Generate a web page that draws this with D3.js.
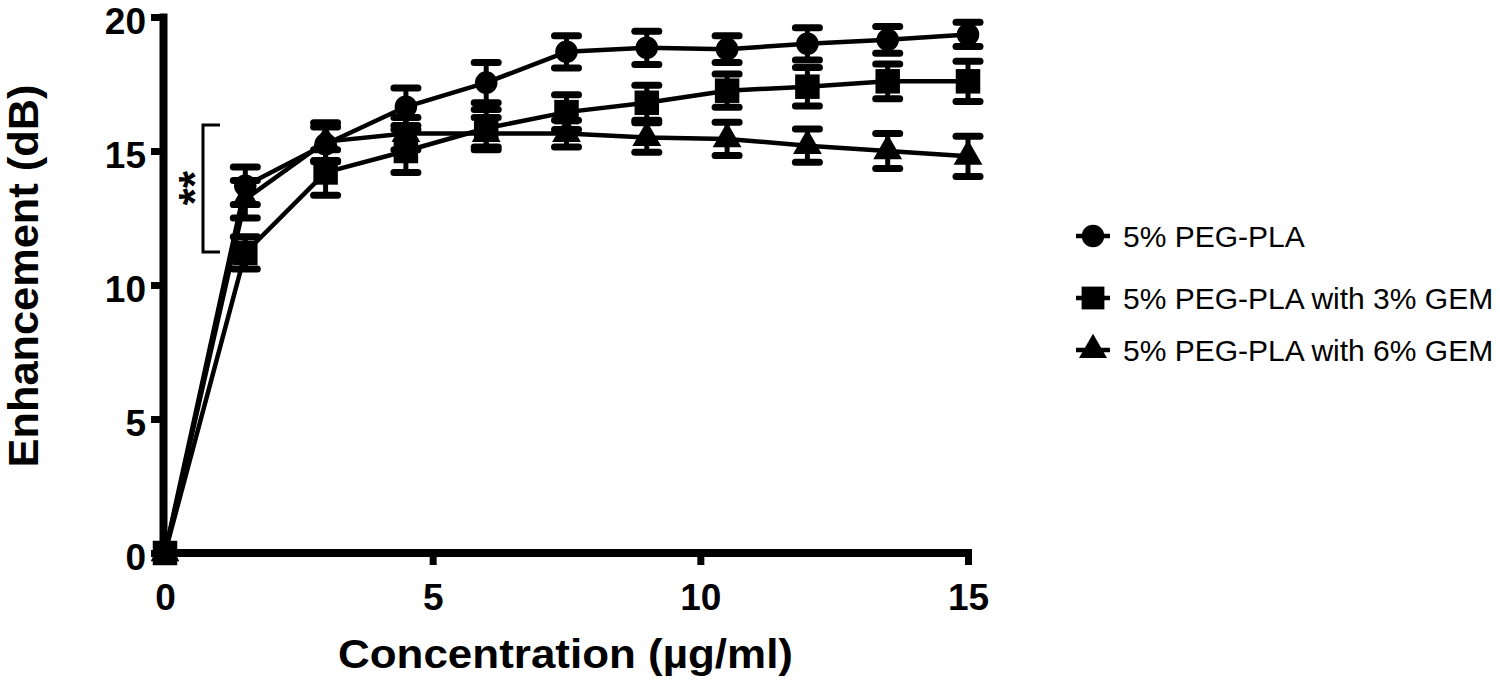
<!DOCTYPE html>
<html>
<head>
<meta charset="utf-8">
<script src="https://cdn.jsdelivr.net/npm/d3@7"></script>
<style>
  html, body { margin: 0; padding: 0; background: #fff; }
  svg { display: block; }
  text { font-family: "Liberation Sans", Arial, Helvetica, sans-serif; fill: #000; }
</style>
</head>
<body>
<svg id="chart" width="1500" height="683"></svg>
<script>
// ---- data ----
const concentrations = [0, 1.5, 3, 4.5, 6, 7.5, 9, 10.5, 12, 13.5, 15];
const xTickValues = [0, 5, 10, 15];
const yTickValues = [0, 5, 10, 15, 20];
const seriesNames = ["5% PEG-PLA", "5% PEG-PLA with 3% GEM", "5% PEG-PLA with 6% GEM"];
const pegPla      = [0, 13.7, 15.25, 16.65, 17.55, 18.7, 18.85, 18.8, 19.0, 19.15, 19.35];
const pegPlaErr   = [0, 0.7, 0.65, 0.7, 0.75, 0.6, 0.62, 0.5, 0.6, 0.5, 0.45];
const gem3        = [0, 11.2, 14.2, 15.0, 15.85, 16.45, 16.8, 17.25, 17.4, 17.6, 17.6];
const gem3Err     = [0, 0.6, 0.85, 0.8, 0.7, 0.65, 0.65, 0.62, 0.72, 0.65, 0.75];
const gem6        = [0, 13.2, 15.35, 15.65, 15.65, 15.65, 15.5, 15.45, 15.2, 15.0, 14.8];
const gem6Err     = [0, 0.7, 0.7, 0.6, 0.6, 0.5, 0.55, 0.62, 0.62, 0.65, 0.75];
const xLabel = "Concentration (\u00b5g/ml)";
const yLabel = "Enhancement (dB)";
const sigLabel = "**";

// ---- setup ----
const svg = d3.select("#chart");
svg.append("rect").attr("width", 1500).attr("height", 683).attr("fill", "#fff");

const x = d3.scaleLinear().domain([0, 15]).range([165, 968]);
const y = d3.scaleLinear().domain([0, 20]).range([553, 17]);

const series = [
  { name: seriesNames[2], values: gem6, err: gem6Err, symbol: d3.symbolTriangle, size: 360 },
  { name: seriesNames[0], values: pegPla, err: pegPlaErr, symbol: d3.symbolCircle, size: 400 },
  { name: seriesNames[1], values: gem3, err: gem3Err, symbol: d3.symbolSquare, size: 600 }
];

// ---- axes ----
const yAxis = d3.axisLeft(y).tickValues(yTickValues).tickSize(12).tickSizeOuter(0).tickPadding(5);
const gy = svg.append("g").attr("transform", `translate(${x(0) - 2},0)`).call(yAxis);
gy.select(".domain").attr("stroke-width", 8).attr("stroke-linecap", "square").attr("stroke", "#000");
gy.selectAll(".tick line").attr("stroke-width", 7).attr("stroke", "#000");
gy.selectAll(".tick text").attr("font-size", 37).attr("font-weight", "bold")
  .attr("font-family", "'Liberation Sans', Arial, sans-serif").attr("fill", "#000").attr("dy", 16.5);

const xAxis = d3.axisBottom(x).tickValues(xTickValues).tickSize(12).tickSizeOuter(0).tickPadding(0);
const gx = svg.append("g").attr("transform", `translate(0,${y(0)})`).call(xAxis);
gx.select(".domain").attr("stroke-width", 8).attr("stroke-linecap", "square").attr("stroke", "#000")
  .attr("d", `M${x(0) - 8},0H${x(15)}`);
gx.selectAll(".tick line").attr("stroke-width", 7).attr("stroke", "#000");
gx.selectAll(".tick text").attr("font-size", 37).attr("font-weight", "bold")
  .attr("font-family", "'Liberation Sans', Arial, sans-serif").attr("fill", "#000")
  .attr("y", 57).attr("dy", 0);

// ---- axis titles ----
svg.append("text")
  .attr("x", (x(0) + x(15)) / 2 - 1).attr("y", 668)
  .attr("text-anchor", "middle").attr("font-size", 40).attr("font-weight", "bold")
  .attr("textLength", 455).attr("lengthAdjust", "spacingAndGlyphs")
  .text(xLabel);

svg.append("text")
  .attr("transform", `translate(38,276) rotate(-90)`)
  .attr("text-anchor", "middle").attr("font-size", 42).attr("font-weight", "bold")
  .attr("textLength", 383).attr("lengthAdjust", "spacingAndGlyphs")
  .text(yLabel);

// ---- significance bracket ----
svg.append("path")
  .attr("d", `M220,125H203V252H220`)
  .attr("fill", "none").attr("stroke", "#000").attr("stroke-width", 3);
svg.append("text")
  .attr("transform", `translate(210,188) rotate(-90)`)
  .attr("text-anchor", "middle").attr("font-size", 44).attr("font-weight", "bold")
  .text(sigLabel);

// ---- lines ----
const line = d3.line().x((d, i) => x(concentrations[i])).y(d => y(d));
series.forEach(s => {
  svg.append("path").attr("d", line(s.values))
    .attr("fill", "none").attr("stroke", "#000").attr("stroke-width", 4.5).attr("stroke-linejoin", "round");
});

// ---- error bars and markers ----
const capHalf = 12;
series.forEach(s => {
  const g = svg.append("g");
  s.values.forEach((v, i) => {
    const e = s.err[i];
    if (e <= 0) return;
    const cx = x(concentrations[i]);
    const top = y(v + e), bot = y(v - e);
    g.append("line").attr("x1", cx).attr("x2", cx).attr("y1", top).attr("y2", bot)
      .attr("stroke", "#000").attr("stroke-width", 5);
    [top, bot].forEach(yy => {
      g.append("line").attr("x1", cx - capHalf).attr("x2", cx + capHalf).attr("y1", yy).attr("y2", yy)
        .attr("stroke", "#000").attr("stroke-width", 7).attr("stroke-linecap", "round");
    });
  });
  const sym = d3.symbol().type(s.symbol).size(s.size);
  s.values.forEach((v, i) => {
    g.append("path").attr("d", sym())
      .attr("transform", `translate(${x(concentrations[i])},${y(v)})`)
      .attr("fill", "#000");
  });
});

// ---- legend ----
const legendItems = [
  { name: seriesNames[0], symbol: d3.symbolCircle, size: 400, y: 236 },
  { name: seriesNames[1], symbol: d3.symbolSquare, size: 520, y: 298 },
  { name: seriesNames[2], symbol: d3.symbolTriangle, size: 340, y: 350 }
];
const lg = svg.append("g");
legendItems.forEach(it => {
  lg.append("line").attr("x1", 1076).attr("x2", 1110).attr("y1", it.y).attr("y2", it.y)
    .attr("stroke", "#000").attr("stroke-width", 4.5);
  lg.append("path").attr("d", d3.symbol().type(it.symbol).size(it.size)())
    .attr("transform", `translate(1093,${it.y})`).attr("fill", "#000");
  lg.append("text").attr("x", 1123).attr("y", it.y + 10.5)
    .attr("font-size", 30).text(it.name);
});
</script>
</body>
</html>
